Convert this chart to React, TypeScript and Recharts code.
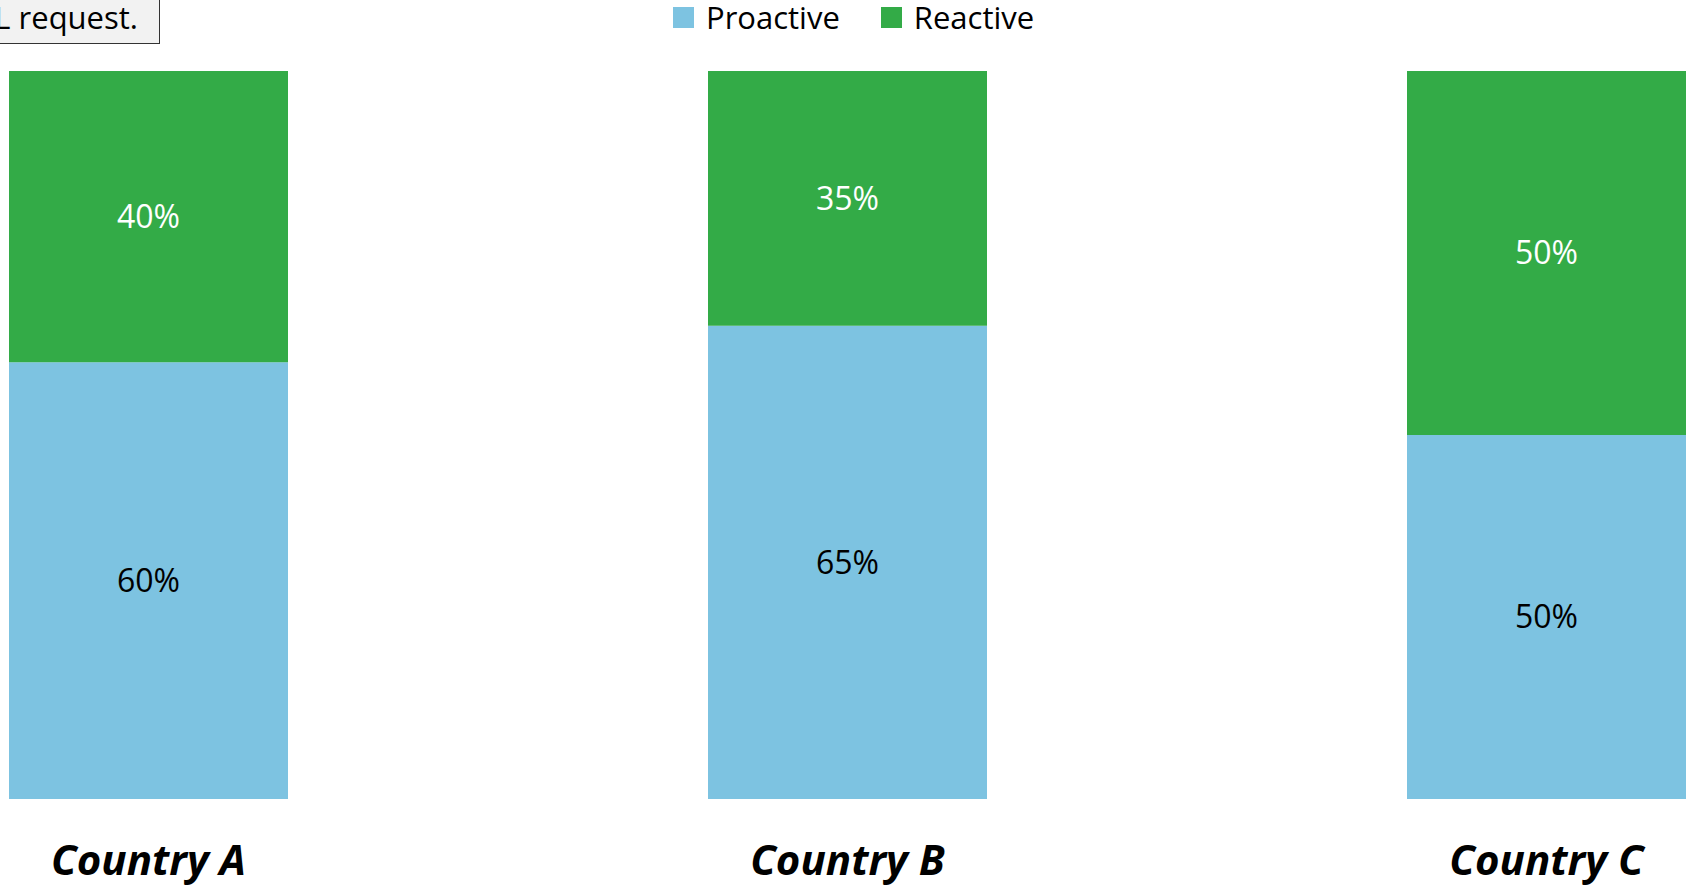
import { BarChart, Bar, XAxis, YAxis, Legend, LabelList } from "recharts";

const countries = ["Country A", "Country B", "Country C"];
const proactive = [60, 65, 50];
const reactive = [40, 35, 50];

const BLUE = "#7DC3E1";
const GREEN = "#33AB47";
const FONT = "'Open Sans', 'Noto Sans', sans-serif";

const data = countries.map((c, i) => ({ country: c, proactive: proactive[i], reactive: reactive[i] }));

function CountryTick(props: any) {
  const { x, y, payload } = props;
  return (
    <text x={x} y={y} dy={76} textAnchor="middle" fill="#000"
      style={{ fontFamily: FONT, fontSize: 42, fontWeight: 700, fontStyle: "italic" }}>
      {payload.value}
    </text>
  );
}

function LegendBox() {
  const items = [["Proactive", BLUE], ["Reactive", GREEN]];
  return (
    <div style={{ display: "flex", alignItems: "center", gap: 41, fontFamily: FONT, fontSize: 31, color: "#000", lineHeight: "34px" }}>
      {items.map(([name, color]) => (
        <div key={name} style={{ display: "flex", alignItems: "center", gap: 12 }}>
          <span style={{ width: 21, height: 21, background: color, display: "inline-block" }} />
          <span>{name}</span>
        </div>
      ))}
    </div>
  );
}

export default function App() {
  return (
    <div style={{ position: "absolute", left: 0, top: 0, width: 1691, height: 894, overflow: "hidden", background: "#fff" }}>
      <BarChart width={1691} height={894} data={data}
        margin={{ top: 71, right: -205, bottom: 0, left: -201 }}>
        <XAxis dataKey="country" axisLine={false} tickLine={false} tickSize={0} tickMargin={0}
          height={95} tick={<CountryTick />} interval={0} />
        <YAxis hide domain={[0, 100]} />
        <Legend verticalAlign="middle" align="center" content={<LegendBox />}
          wrapperStyle={{ top: 0, left: 673, width: "auto" }} />
        <Bar dataKey="proactive" name="Proactive" stackId="s" fill={BLUE} barSize={279} isAnimationActive={false}>
          <LabelList dataKey="proactive" position="center" formatter={(v: any) => `${v}%`}
            fill="#000" style={{ fontFamily: FONT, fontSize: 32 }} />
        </Bar>
        <Bar dataKey="reactive" name="Reactive" stackId="s" fill={GREEN} barSize={279} isAnimationActive={false}>
          <LabelList dataKey="reactive" position="center" formatter={(v: any) => `${v}%`}
            fill="#fff" style={{ fontFamily: FONT, fontSize: 32 }} />
        </Bar>
      </BarChart>
      <div style={{
        position: "absolute", left: -60, top: -10, width: 197, height: 52, paddingRight: 21,
        background: "#F2F2F2", border: "1px solid #333", fontFamily: FONT, fontSize: 31,
        textAlign: "right", lineHeight: "52px", color: "#000", boxSizing: "content-box", whiteSpace: "nowrap"
      }}>L request.</div>
    </div>
  );
}
